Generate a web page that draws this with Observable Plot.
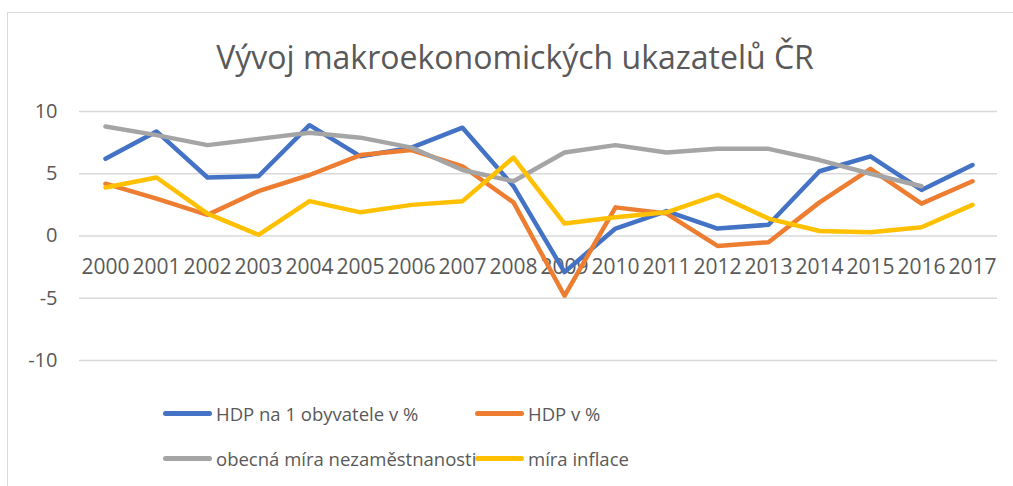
<!DOCTYPE html>
<html>
<head>
<meta charset="utf-8">
<script src="https://cdn.jsdelivr.net/npm/d3@7"></script>
<script src="https://cdn.jsdelivr.net/npm/@observablehq/plot@0.6"></script>
<style>
  html, body { margin: 0; padding: 0; background: #fff; }
  #wrap { position: relative; width: 1013px; height: 486px; overflow: hidden; font-family: "Open Sans", sans-serif; }
  #frame { position: absolute; left: 7px; top: 12px; width: 1020px; height: 500px; border-left: 1.5px solid #d9d9d9; border-top: 1.5px solid #d9d9d9; }
  #title { position: absolute; left: 0; width: 1030px; top: 35px; text-align: center; font-size: 32px; color: #595959; white-space: nowrap; }
  #chart { position: absolute; left: 0; top: 0; }
  .leg { position: absolute; display: flex; align-items: center; font-size: 18.5px; color: #595959; white-space: nowrap; }
  .leg .sw { width: 49px; height: 5px; border-radius: 3px; margin-right: 4px; }
</style>
</head>
<body>
<div id="wrap">
  <div id="frame"></div>
  <div id="chart"></div>
  <div id="title">Vývoj makroekonomických ukazatelů ČR</div>
  <div id="legend"></div>
</div>
<script>
const years = [2000,2001,2002,2003,2004,2005,2006,2007,2008,2009,2010,2011,2012,2013,2014,2015,2016,2017];
const hdpNaObyv = [6.2,8.4,4.7,4.8,8.9,6.4,7.1,8.7,4.0,-2.9,0.6,2.0,0.6,0.9,5.2,6.4,3.7,5.7];
const hdp = [4.2,3.0,1.7,3.6,4.9,6.5,6.9,5.6,2.7,-4.8,2.3,1.8,-0.8,-0.5,2.7,5.4,2.6,4.4];
const nezam = [8.8,8.1,7.3,7.8,8.3,7.9,7.1,5.3,4.4,6.7,7.3,6.7,7.0,7.0,6.1,5.0,4.0,null];
const inflace = [3.9,4.7,1.8,0.1,2.8,1.9,2.5,2.8,6.3,1.0,1.5,1.9,3.3,1.4,0.4,0.3,0.7,2.5];
const seriesNames = ["HDP na 1 obyvatele v %","HDP v %","obecná míra nezaměstnanosti","míra inflace"];
const seriesColors = ["#4472C4","#ED7D31","#A5A5A5","#FFC000"];
const yTicks = [-10,-5,0,5,10];

const seriesValues = [hdpNaObyv, hdp, nezam, inflace];
const rows = [];
seriesNames.forEach((name, i) => {
  years.forEach((yr, j) => {
    const v = seriesValues[i][j];
    if (v !== null) rows.push({series: name, year: String(yr), value: v});
  });
});
const yearLabels = years.map(String);

const chart = Plot.plot({
  width: 1013,
  height: 486,
  marginTop: 111,
  marginBottom: 126,
  marginLeft: 79,
  marginRight: 16,
  style: {fontFamily: "'Open Sans', sans-serif", background: "transparent"},
  x: {type: "point", domain: yearLabels, padding: 0.5, axis: null},
  y: {domain: [-10, 10], ticks: yTicks},
  color: {domain: seriesNames, range: seriesColors},
  marks: [
    Plot.gridY(yTicks, {stroke: "#d9d9d9", strokeOpacity: 1, strokeWidth: 1.5}),
    Plot.axisY(yTicks, {tickSize: 0, tickPadding: 22, fontSize: 20, fill: "#595959", label: null, tickFormat: d => String(d)}),
    Plot.text(yearLabels, {x: d => d, y: () => 0, dy: 31, fontSize: 21, fill: "#595959", text: d => d}),
    Plot.line(rows, {x: "year", y: "value", z: "series", stroke: "series", strokeWidth: 4.5, strokeLinejoin: "round", strokeLinecap: "round", curve: "linear"})
  ]
});
document.getElementById("chart").appendChild(chart);

const legend = document.getElementById("legend");
const legPos = [[163, 413], [475, 413], [163, 458], [475, 458]];
seriesNames.forEach((name, i) => {
  const d = document.createElement("div");
  d.className = "leg";
  d.style.left = legPos[i][0] + "px";
  d.style.top = (legPos[i][1] - 13) + "px";
  d.style.height = "26px";
  const sw = document.createElement("span");
  sw.className = "sw";
  sw.style.background = seriesColors[i];
  const t = document.createElement("span");
  t.textContent = name;
  d.appendChild(sw); d.appendChild(t);
  legend.appendChild(d);
});
</script>
</body>
</html>
